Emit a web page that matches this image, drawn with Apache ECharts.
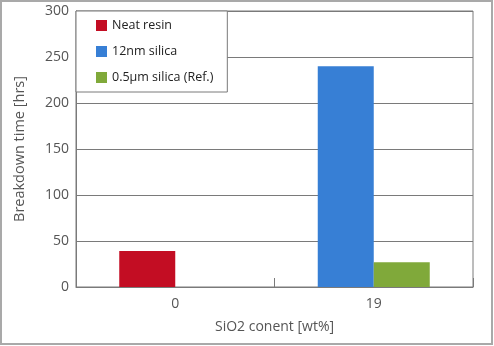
<!DOCTYPE html>
<html><head><meta charset="utf-8">
<script src="https://cdn.jsdelivr.net/npm/echarts@6/dist/echarts.min.js"></script>
<style>html,body{margin:0;padding:0;background:#fff;}#c{width:494px;height:346px;}</style>
</head><body><div id="c"></div>
<script>
var categories = ['0', '19'];
var seriesNames = ['Neat resin', '12nm silica', '0.5\u03bcm silica (Ref.)'];
var neatResin = [39, '-'];
var nano12 = ['-', 240];
var micro05 = ['-', 27];
var yTicks = [0, 50, 100, 150, 200, 250, 300];

var FONT = '"Open Sans", sans-serif';
var chart = echarts.init(document.getElementById('c'), null, {renderer: 'canvas'});
chart.setOption({
  animation: false,
  backgroundColor: '#fff',
  textStyle: {fontFamily: FONT},
  grid: {left: 76, right: 21, top: 11, bottom: 59, show: true, borderColor: '#7a7a7a', borderWidth: 1},
  legend: {
    orient: 'vertical', left: 76, top: 11,
    padding: [8, 14, 8, 20],
    itemWidth: 11, itemHeight: 11, itemGap: 13, icon: 'rect',
    backgroundColor: '#fff', borderColor: '#7a7a7a', borderWidth: 1,
    textStyle: {fontFamily: FONT, fontSize: 12.5, color: '#222'},
    data: seriesNames
  },
  xAxis: {
    type: 'category', data: categories,
    name: 'SiO2 conent [wt%]', nameLocation: 'middle', nameGap: 33,
    nameTextStyle: {fontFamily: FONT, fontSize: 14, color: '#555'},
    axisLine: {lineStyle: {color: '#7a7a7a', width: 1}},
    axisTick: {show: true, inside: true, length: 9, lineStyle: {color: '#7a7a7a'}},
    axisLabel: {fontFamily: FONT, fontSize: 14, color: '#555', margin: 10}
  },
  yAxis: {
    type: 'value', min: yTicks[0], max: yTicks[yTicks.length - 1], interval: 50,
    name: 'Breakdown time [hrs]', nameLocation: 'middle', nameGap: 49, nameRotate: 90,
    nameTextStyle: {fontFamily: FONT, fontSize: 14.5, color: '#555'},
    axisLine: {show: true, lineStyle: {color: '#7a7a7a', width: 1}},
    axisTick: {show: false},
    axisLabel: {fontFamily: FONT, fontSize: 14, color: '#555', margin: 7},
    splitLine: {lineStyle: {color: '#7a7a7a', width: 1}}
  },
  series: [
    {name: seriesNames[0], type: 'bar', stack: 'a', data: neatResin, barWidth: 56, barGap: '0%', itemStyle: {color: '#c30d23'}},
    {name: seriesNames[1], type: 'bar', stack: 'a', data: nano12, barWidth: 56, barGap: '0%', itemStyle: {color: '#377fd5'}},
    {name: seriesNames[2], type: 'bar', stack: 'b', data: micro05, barWidth: 56, barGap: '0%', itemStyle: {color: '#80a93a'}}
  ],
  graphic: [{
    type: 'rect', shape: {x: 1, y: 1, width: 491, height: 343},
    style: {fill: 'none', stroke: '#a9a9a9', lineWidth: 2}, z: 100, silent: true
  }]
});
</script></body></html>
